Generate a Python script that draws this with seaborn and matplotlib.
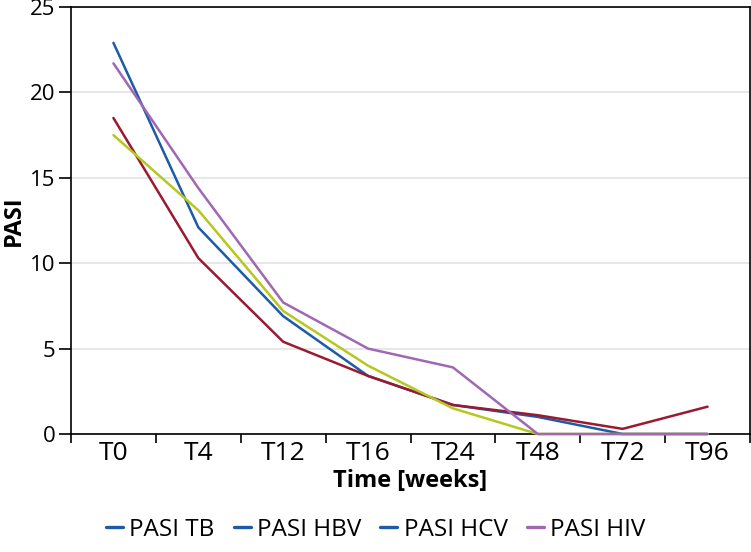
import matplotlib
matplotlib.use('Agg')
import matplotlib.pyplot as plt
from matplotlib.lines import Line2D
import seaborn as sns
import pandas as pd

# --- data ---
timepoints = ['T0', 'T4', 'T12', 'T16', 'T24', 'T48', 'T72', 'T96']
pasi_tb = [22.9, 12.1, 6.9, 3.4, 1.7, 1.0, 0.0, 0.0]
pasi_hbv = [18.5, 10.3, 5.4, 3.4, 1.7, 1.1, 0.3, 1.6]
pasi_hcv = [17.5, 13.1, 7.2, 4.0, 1.5, 0.0, 0.0, 0.0]
pasi_hiv = [21.7, 14.4, 7.7, 5.0, 3.9, 0.0, 0.0, 0.0]

series_names = ['PASI TB', 'PASI HBV', 'PASI HCV', 'PASI HIV']
line_colors = ['#1c5ba6', '#9a1a32', '#b6c81e', '#a068b2']
# the legend in the original shows these swatch colours
legend_colors = ['#1c5ba6', '#1c5ba6', '#1c5ba6', '#a068b2']

sns.set_style('white')
plt.rcParams['font.family'] = ['Open Sans', 'DejaVu Sans']
plt.rcParams['text.color'] = 'black'
plt.rcParams['axes.labelcolor'] = 'black'
plt.rcParams['xtick.color'] = 'black'
plt.rcParams['ytick.color'] = 'black'

df = pd.DataFrame({
    'time': timepoints * 4,
    'PASI': pasi_tb + pasi_hbv + pasi_hcv + pasi_hiv,
    'series': [s for s in series_names for _ in timepoints],
})

fig = plt.figure(figsize=(7.51, 5.52), dpi=100)
ax = fig.add_axes([71 / 751, 1 - 434 / 552, 679 / 751, 427 / 552])

sns.lineplot(data=df, x='time', y='PASI', hue='series', palette=line_colors,
             linewidth=1.8, sort=False, legend=False, ax=ax)
for ln in ax.lines:
    ln.set_clip_on(False)
    ln.set_zorder(5)

ax.set_xlim(-0.5, len(timepoints) - 0.5)
ax.set_ylim(0, 25)
ax.set_yticks([0, 5, 10, 15, 20, 25])
ax.set_xticks(range(len(timepoints)))
ax.set_xticklabels(timepoints)
ax.set_xticks([i - 0.5 for i in range(len(timepoints) + 1)], minor=True)
ax.tick_params(axis='x', which='major', bottom=False, length=0, labelsize=19, pad=5)
ax.tick_params(axis='x', which='minor', bottom=True, length=6.5, width=1.2, direction='out')
ax.tick_params(axis='y', left=True, length=9, width=1.2, direction='out', labelsize=16, pad=2)
ax.yaxis.grid(True, color='#e3e3e3', linewidth=1.2)
ax.set_axisbelow(True)
for side in ['left', 'bottom', 'top', 'right']:
    ax.spines[side].set_color('black')
    ax.spines[side].set_linewidth(1.2)

ax.set_xlabel('Time [weeks]', fontsize=17, fontweight='bold', labelpad=2)
ax.set_ylabel('PASI', fontsize=17, fontweight='bold', labelpad=3)

handles = [Line2D([0], [0], color=c, linewidth=2.4) for c in legend_colors]
fig.legend(handles, series_names, loc='center', bbox_to_anchor=(0.5, 1 - 530 / 552),
           ncol=4, frameon=False, fontsize=17.5, handlelength=0.7,
           handletextpad=0.25, columnspacing=0.8, borderaxespad=0, borderpad=0)

fig.savefig('out.png', dpi=100)
